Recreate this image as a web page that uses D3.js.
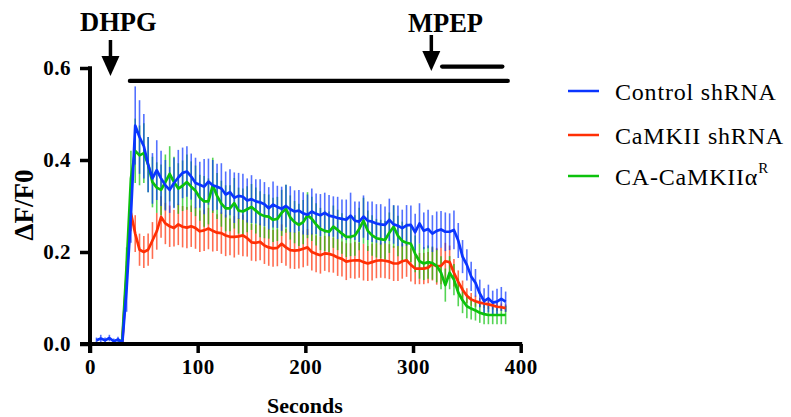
<!DOCTYPE html>
<html>
<head>
<meta charset="utf-8">
<script src="https://cdn.jsdelivr.net/npm/d3@7"></script>
<style>
  body { margin: 0; background: #fff; }
  svg text { font-family: "Liberation Serif", "Times New Roman", serif; }
</style>
</head>
<body>
<div id="chart"></div>
<script>
// Sample times (s)
const seconds = [
  6, 10, 14, 18, 22, 26, 30, 34, 38, 42,
  46, 50, 54, 58, 62, 66, 70, 74, 78, 82,
  86, 90, 94, 98, 102, 106, 110, 114, 118, 122,
  126, 130, 134, 138, 142, 146, 150, 154, 158, 162,
  166, 170, 174, 178, 182, 186, 190, 194, 198, 202,
  206, 210, 214, 218, 222, 226, 230, 234, 238, 242,
  246, 250, 254, 258, 262, 266, 270, 274, 278, 282,
  286, 290, 294, 298, 302, 306, 310, 314, 318, 322,
  326, 330, 334, 338, 342, 346, 350, 354, 358, 362,
  366, 370, 374, 378, 382, 386
];

// Control shRNA
const controlMean = [
  0.008, 0.012, 0.008, 0.013, 0.006, 0.010, 0.002, 0.12, 0.28, 0.475,
  0.45, 0.43, 0.39, 0.36, 0.378, 0.36, 0.345, 0.335, 0.35, 0.362,
  0.372, 0.375, 0.364, 0.35, 0.346, 0.342, 0.353, 0.345, 0.342, 0.338,
  0.325, 0.33, 0.318, 0.322, 0.32, 0.312, 0.315, 0.31, 0.308, 0.304,
  0.295, 0.303, 0.298, 0.294, 0.30, 0.293, 0.288, 0.29, 0.284, 0.281,
  0.288, 0.283, 0.28, 0.285, 0.279, 0.277, 0.274, 0.272, 0.27, 0.279,
  0.268, 0.266, 0.277, 0.268, 0.266, 0.262, 0.26, 0.259, 0.27, 0.26,
  0.257, 0.252, 0.258, 0.259, 0.243, 0.262, 0.246, 0.25, 0.24, 0.246,
  0.249, 0.244, 0.244, 0.248, 0.225, 0.19, 0.172, 0.147, 0.133, 0.11,
  0.093, 0.099, 0.09, 0.092, 0.098, 0.092
];
const controlSem = [
  0.006, 0.008, 0.006, 0.007, 0.006, 0.006, 0.004, 0.05, 0.06, 0.085,
  0.08, 0.07, 0.06, 0.055, 0.065, 0.06, 0.055, 0.05, 0.055, 0.06,
  0.055, 0.055, 0.05, 0.055, 0.05, 0.06, 0.05, 0.055, 0.05, 0.055,
  0.05, 0.05, 0.055, 0.05, 0.05, 0.048, 0.052, 0.048, 0.05, 0.048,
  0.046, 0.05, 0.046, 0.048, 0.046, 0.05, 0.046, 0.045, 0.046, 0.044,
  0.05, 0.044, 0.046, 0.044, 0.045, 0.044, 0.046, 0.042, 0.044, 0.05,
  0.042, 0.044, 0.046, 0.042, 0.044, 0.042, 0.044, 0.04, 0.046, 0.042,
  0.044, 0.04, 0.044, 0.042, 0.04, 0.044, 0.04, 0.042, 0.04, 0.042,
  0.04, 0.042, 0.04, 0.042, 0.038, 0.036, 0.034, 0.032, 0.03, 0.03,
  0.028, 0.03, 0.026, 0.028, 0.026, 0.022
];

// CaMKII shRNA
const knockdownMean = [
  0, 0, 0, 0, 0, 0, 0.005, 0.15, 0.285, 0.24,
  0.205, 0.2, 0.205, 0.225, 0.245, 0.276, 0.262, 0.256, 0.252, 0.26,
  0.255, 0.253, 0.256, 0.252, 0.245, 0.247, 0.251, 0.246, 0.242, 0.241,
  0.236, 0.233, 0.233, 0.234, 0.236, 0.23, 0.221, 0.22, 0.222, 0.214,
  0.21, 0.208, 0.209, 0.218, 0.21, 0.204, 0.203, 0.204, 0.207, 0.21,
  0.2, 0.196, 0.193, 0.197, 0.196, 0.193, 0.188, 0.185, 0.179, 0.181,
  0.182, 0.182, 0.178, 0.175, 0.178, 0.181, 0.182, 0.181, 0.179, 0.175,
  0.175, 0.18, 0.182, 0.172, 0.164, 0.164, 0.164, 0.166, 0.174, 0.169,
  0.17, 0.18, 0.178, 0.155, 0.135, 0.118, 0.105, 0.097, 0.093, 0.09,
  0.088, 0.086, 0.084, 0.081, 0.08, 0.078
];
const knockdownSem = [
  0.003, 0.003, 0.003, 0.003, 0.003, 0.003, 0.003, 0.03, 0.04, 0.04,
  0.035, 0.035, 0.035, 0.04, 0.04, 0.045, 0.045, 0.045, 0.04, 0.045,
  0.045, 0.045, 0.045, 0.045, 0.045, 0.045, 0.045, 0.045, 0.04, 0.045,
  0.045, 0.04, 0.045, 0.04, 0.045, 0.04, 0.04, 0.04, 0.04, 0.04,
  0.04, 0.04, 0.04, 0.042, 0.04, 0.04, 0.04, 0.04, 0.04, 0.04,
  0.04, 0.04, 0.04, 0.038, 0.04, 0.038, 0.04, 0.038, 0.04, 0.038,
  0.04, 0.038, 0.04, 0.038, 0.04, 0.038, 0.038, 0.038, 0.038, 0.038,
  0.038, 0.038, 0.036, 0.036, 0.034, 0.034, 0.034, 0.034, 0.036, 0.04,
  0.04, 0.04, 0.036, 0.03, 0.025, 0.02, 0.016, 0.014, 0.012, 0.01,
  0.01, 0.01, 0.009, 0.009, 0.008, 0.008
];

// CA-CaMKIIa rescue
const rescueMean = [
  0, 0, 0.001, 0, 0, 0, 0.01, 0.17, 0.36, 0.42,
  0.41, 0.415, 0.39, 0.352, 0.34, 0.335, 0.352, 0.37, 0.352, 0.338,
  0.344, 0.352, 0.342, 0.333, 0.318, 0.31, 0.31, 0.345, 0.322, 0.305,
  0.295, 0.295, 0.306, 0.29, 0.288, 0.293, 0.298, 0.29, 0.282, 0.278,
  0.277, 0.27, 0.272, 0.285, 0.294, 0.275, 0.265, 0.259, 0.265, 0.28,
  0.272, 0.26, 0.25, 0.246, 0.244, 0.255, 0.248, 0.24, 0.233, 0.233,
  0.236, 0.25, 0.268, 0.246, 0.236, 0.23, 0.228, 0.226, 0.242, 0.255,
  0.235, 0.224, 0.22, 0.218, 0.196, 0.18, 0.175, 0.178, 0.176, 0.17,
  0.155, 0.128, 0.155, 0.14, 0.112, 0.095, 0.082, 0.077, 0.073, 0.068,
  0.065, 0.063, 0.063, 0.063, 0.063, 0.063
];
const rescueSem = [
  0.003, 0.003, 0.003, 0.003, 0.003, 0.003, 0.003, 0.04, 0.06, 0.07,
  0.065, 0.065, 0.06, 0.055, 0.055, 0.055, 0.06, 0.06, 0.055, 0.055,
  0.055, 0.06, 0.055, 0.055, 0.05, 0.055, 0.05, 0.06, 0.05, 0.05,
  0.05, 0.05, 0.055, 0.05, 0.05, 0.05, 0.05, 0.05, 0.05, 0.048,
  0.048, 0.048, 0.048, 0.05, 0.052, 0.048, 0.046, 0.046, 0.048, 0.05,
  0.048, 0.046, 0.046, 0.044, 0.044, 0.046, 0.044, 0.044, 0.044, 0.042,
  0.044, 0.046, 0.05, 0.044, 0.044, 0.042, 0.042, 0.042, 0.044, 0.046,
  0.044, 0.042, 0.042, 0.04, 0.04, 0.038, 0.036, 0.036, 0.036, 0.036,
  0.036, 0.036, 0.036, 0.034, 0.03, 0.028, 0.026, 0.024, 0.022, 0.022,
  0.022, 0.02, 0.02, 0.02, 0.02, 0.02
];

const xTicks = [0, 100, 200, 300, 400];
const yTicks = [0.0, 0.2, 0.4, 0.6];

// drug application bars (seconds) and arrows
const dhpgBar = [37, 388];
const mpepBar = [327, 383];
const dhpgArrowAt = 19;
const mpepArrowAt = 317;

const series = [
  { name: 'Control shRNA', mean: controlMean, sem: controlSem, color: '#0a35ff' },
  { name: 'CaMKII shRNA', mean: knockdownMean, sem: knockdownSem, color: '#ff2f05' },
  { name: 'CA-CaMKIIα', sup: 'R', mean: rescueMean, sem: rescueSem, color: '#0cc20c' }
];

const width = 791, height = 417;
const svg = d3.select('#chart').append('svg')
    .attr('width', width)
    .attr('height', height);

const x = d3.scaleLinear().domain([0, 400]).range([90, 520.7]);
const y = d3.scaleLinear().domain([0, 0.6]).range([344, 68]);

// error bars first, then the mean traces
const drawOrder = [series[1], series[2], series[0]];

drawOrder.forEach(s => {
    svg.append('g')
        .selectAll('line')
        .data(seconds.map((t, i) => ({ t, m: s.mean[i], e: s.sem[i] })))
        .enter()
        .append('line')
        .attr('x1', d => x(d.t))
        .attr('x2', d => x(d.t))
        .attr('y1', d => y(d.m - d.e))
        .attr('y2', d => y(d.m + d.e))
        .attr('stroke', s.color)
        .attr('stroke-opacity', 0.7)
        .attr('stroke-width', 1.6);
});

const line = d3.line()
    .x(d => x(d[0]))
    .y(d => y(d[1]));

drawOrder.forEach(s => {
    svg.append('path')
        .datum(seconds.map((t, i) => [t, s.mean[i]]))
        .attr('d', line)
        .attr('fill', 'none')
        .attr('stroke', s.color)
        .attr('stroke-width', 2.7)
        .attr('stroke-linejoin', 'round');
});

// axes
const xAxis = svg.append('g')
    .attr('transform', `translate(0, ${y(0)})`)
    .call(d3.axisBottom(x).tickValues(xTicks).tickFormat(d3.format('d')).tickSize(9).tickPadding(6));
const yAxis = svg.append('g')
    .attr('transform', `translate(${x(0)}, 0)`)
    .call(d3.axisLeft(y).tickValues(yTicks).tickFormat(d3.format('.1f')).tickSize(10).tickPadding(9));

[xAxis, yAxis].forEach(ax => {
    ax.select('.domain').remove();
    ax.selectAll('.tick line').attr('stroke', '#000').attr('stroke-width', 3.5);
    ax.selectAll('.tick text')
        .attr('fill', '#000')
        .style('font-size', '21px')
        .style('font-weight', 'bold')
        .style('letter-spacing', '0.5px')
        .style('font-family', '"Liberation Serif", "Times New Roman", serif');
});

// axis lines
svg.append('line')
    .attr('x1', x(0) - 10).attr('x2', x(400) + 1.5)
    .attr('y1', y(0)).attr('y2', y(0))
    .attr('stroke', '#000').attr('stroke-width', 4);
svg.append('line')
    .attr('x1', x(0)).attr('x2', x(0))
    .attr('y1', y(0.6) - 1.75).attr('y2', y(0) + 9)
    .attr('stroke', '#000').attr('stroke-width', 4);

// axis titles
svg.append('text')
    .attr('x', 305).attr('y', 413)
    .attr('text-anchor', 'middle')
    .style('font-size', '22px').style('font-weight', 'bold')
    .text('Seconds');
svg.append('text')
    .attr('transform', 'translate(33, 205) rotate(-90)')
    .attr('text-anchor', 'middle')
    .style('font-size', '27px').style('font-weight', 'bold')
    .text('ΔF/F0');

// drug bars
const barY = 0.572, mpepY = 0.603;
svg.append('line')
    .attr('x1', x(dhpgBar[0])).attr('x2', x(dhpgBar[1]))
    .attr('y1', y(barY)).attr('y2', y(barY))
    .attr('stroke', '#000').attr('stroke-width', 4.2).attr('stroke-linecap', 'round');
svg.append('line')
    .attr('x1', x(mpepBar[0])).attr('x2', x(mpepBar[1]))
    .attr('y1', y(mpepY)).attr('y2', y(mpepY))
    .attr('stroke', '#000').attr('stroke-width', 4.2).attr('stroke-linecap', 'round');

function arrow(cx, top, tip) {
    svg.append('line')
        .attr('x1', cx).attr('x2', cx)
        .attr('y1', top).attr('y2', tip - 14)
        .attr('stroke', '#000').attr('stroke-width', 3.5);
    svg.append('polygon')
        .attr('points', `${cx - 9},${tip - 20} ${cx + 9},${tip - 20} ${cx},${tip}`)
        .attr('fill', '#000');
}
arrow(x(dhpgArrowAt), 40, 76);
arrow(x(mpepArrowAt), 35, 71);

svg.append('text')
    .attr('x', 80).attr('y', 31)
    .style('font-size', '26.5px').style('font-weight', 'bold')
    .text('DHPG');
svg.append('text')
    .attr('x', 408).attr('y', 32)
    .style('font-size', '26.5px').style('font-weight', 'bold')
    .text('MPEP');

// legend
const legend = svg.append('g').attr('transform', 'translate(568, 0)');
const legendY = [91, 135, 176];
series.forEach((s, i) => {
    legend.append('line')
        .attr('x1', 0).attr('x2', 31)
        .attr('y1', legendY[i]).attr('y2', legendY[i])
        .attr('stroke', s.color).attr('stroke-width', 2.5);
    const t = legend.append('text')
        .attr('x', 47).attr('y', legendY[i] + 9)
        .style('font-size', '24px')
        .style('letter-spacing', '0.8px')
        .text(s.name);
    if (s.sup) {
        t.append('tspan')
            .attr('dy', -12)
            .style('font-size', '15px')
            .text(s.sup);
    }
});
</script>
</body>
</html>
